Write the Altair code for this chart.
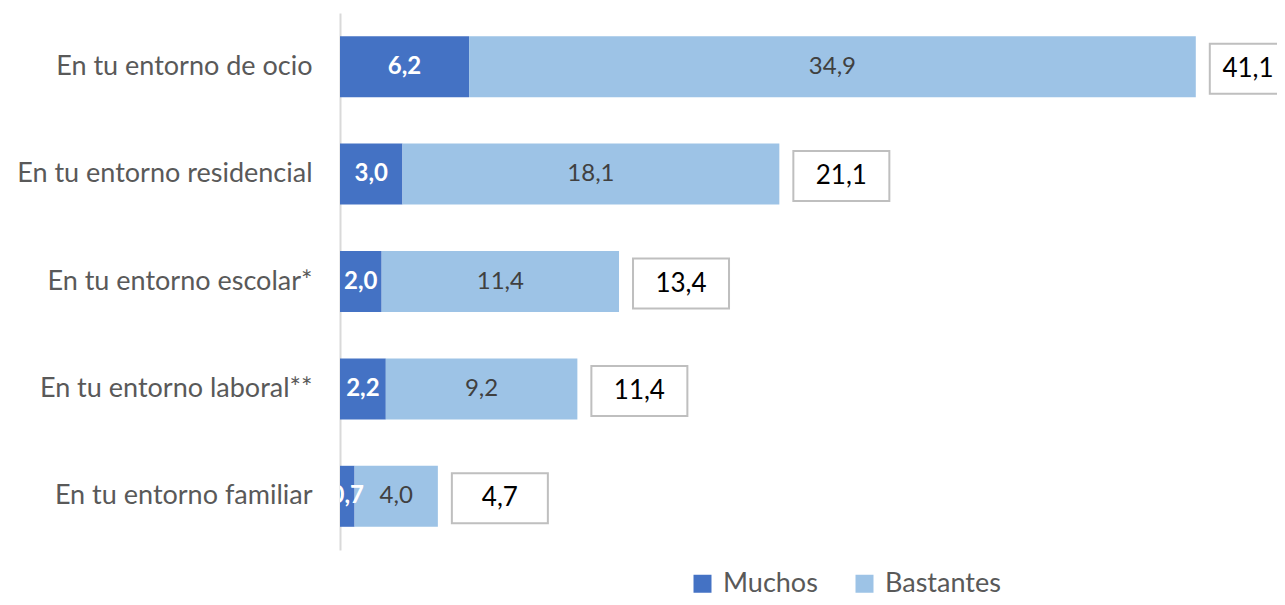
import altair as alt
import pandas as pd

categorias = [
    "En tu entorno de ocio",
    "En tu entorno residencial",
    "En tu entorno escolar*",
    "En tu entorno laboral**",
    "En tu entorno familiar",
]
muchos = [6.2, 3.0, 2.0, 2.2, 0.7]
bastantes = [34.9, 18.1, 11.4, 9.2, 4.0]
totales = [41.1, 21.1, 13.4, 11.4, 4.7]
series = ["Muchos", "Bastantes"]
colores = ["#4472C4", "#9DC3E6"]

rows = []
for c, m, b in zip(categorias, muchos, bastantes):
    rows.append({"cat": c, "serie": "Muchos", "orden": 0, "valor": m})
    rows.append({"cat": c, "serie": "Bastantes", "orden": 1, "valor": b})
df = pd.DataFrame(rows)
df_tot = pd.DataFrame({"cat": categorias, "total": totales})

FONT = "Lato"
xs = alt.Scale(domain=[0, 45], nice=False, zero=True)
ys = alt.Y(
    "cat:N",
    sort=categorias,
    scale=alt.Scale(paddingInner=0, paddingOuter=0),
    axis=alt.Axis(
        title=None, ticks=False, domainColor="#D9D9D9", domainWidth=2,
        labelFont=FONT, labelFontSize=27, labelColor="#595959",
        labelPadding=28, labelLimit=400,
    ),
)

base = (
    alt.Chart(df)
    .transform_stack(
        stack="valor", groupby=["cat"], as_=["x0", "x1"],
        sort=[alt.SortField("orden", "ascending")],
    )
    .transform_calculate(
        mid="(datum.x0 + datum.x1) / 2",
        lab="replace(format(datum.valor, '.1f'), '.', ',')",
    )
)

bars = base.mark_bar(size=61).encode(
    x=alt.X("x0:Q", scale=xs, axis=None),
    x2="x1:Q",
    y=ys,
    color=alt.Color(
        "serie:N",
        scale=alt.Scale(domain=series, range=colores),
        legend=alt.Legend(
            orient="none", legendX=349, legendY=557, direction="horizontal",
            title=None, symbolType="square", symbolSize=324,
            symbolStrokeWidth=0, symbolOpacity=1, labelFont=FONT,
            labelFontSize=27, labelColor="#595959", columnPadding=33,
            labelOffset=7,
        ),
    ),
)

txt_m = base.transform_filter(alt.datum.serie == "Muchos").mark_text(
    font=FONT, fontSize=24, fontWeight="bold", color="white", clip=True
).encode(x=alt.X("mid:Q", scale=xs), y=ys, text="lab:N")

txt_b = base.transform_filter(alt.datum.serie == "Bastantes").mark_text(
    font=FONT, fontSize=24, color="#404040"
).encode(x=alt.X("mid:Q", scale=xs), y=ys, text="lab:N")

tot_base = alt.Chart(df_tot).transform_calculate(
    lab="replace(format(datum.total, '.1f'), '.', ',')"
)

boxes = tot_base.mark_bar(
    size=50, xOffset=14, x2Offset=110, yOffset=2, fill="white",
    stroke="#BFBFBF", strokeWidth=2,
).encode(x=alt.X("total:Q", scale=xs), x2="total:Q", y=ys)

box_txt = tot_base.mark_text(
    font=FONT, fontSize=26, color="#000000", dy=2,
    dx=alt.expr("min(62, width - scale('x', datum.total) - 29)"),
).encode(x=alt.X("total:Q", scale=xs), y=ys, text="lab:N")

chart = (
    alt.layer(bars, txt_m, txt_b, boxes, box_txt)
    .properties(
        width=937, height=537,
        autosize=alt.AutoSizeParams(type="none"),
        padding={"left": 332, "top": 5, "right": 0, "bottom": 47},
    )
    .configure_view(stroke=None)
)

chart.save("out.html", embed_options={"renderer": "svg", "actions": False})
